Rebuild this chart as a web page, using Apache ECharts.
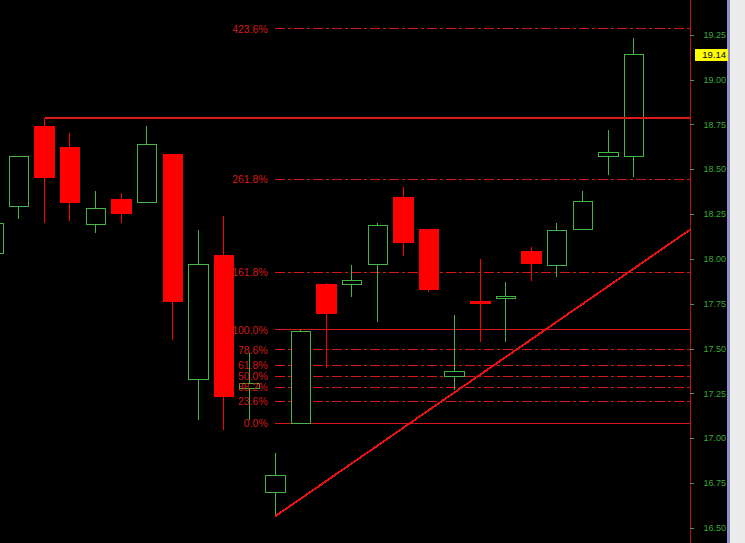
<!DOCTYPE html>
<html><head><meta charset="utf-8">
<script src="https://cdn.jsdelivr.net/npm/echarts@6/dist/echarts.min.js"></script>
<style>html,body{margin:0;padding:0;background:#000;}#c{width:745px;height:543px;}
#c svg path, #c svg rect, #c svg line { shape-rendering: crispEdges; }</style>
</head><body><div id="c"></div>
<script>
// ---- data ----
const candleIdx = [0,1,2,3,4,5,6,7,8,9,10,11,12,13,14,15,16,17,18,19,20,21,22,23,24,25];
const opens  = [18.034,18.292,18.737,18.625,18.194,18.335,18.317,18.586,17.326,18.021,17.276,16.701,17.086,17.856,17.856,17.971,18.346,18.168,17.348,17.766,17.778,18.045,17.967,18.168,18.570,18.575];
const closes = [18.196,18.575,18.454,18.315,18.283,18.253,18.637,17.763,17.971,17.233,17.309,16.796,17.594,17.694,17.878,18.185,18.090,17.831,17.376,17.750,17.794,17.978,18.157,18.319,18.597,19.140];
const lows   = [17.990,18.224,18.203,18.214,18.144,18.203,18.317,17.549,17.103,17.047,17.103,16.563,17.086,17.393,17.789,17.649,18.017,17.814,17.270,17.538,17.538,17.878,17.900,18.168,18.469,18.458];
const highs  = [18.230,18.575,18.787,18.702,18.380,18.367,18.744,18.586,18.162,18.240,17.476,16.919,17.605,17.867,17.967,18.201,18.402,18.168,17.688,18.001,17.872,18.068,18.201,18.380,18.720,19.233];

const fibLow = 17.086, fibHigh = 17.605, fibStartIdx = 11;
const fibRatios = [0, 0.236, 0.382, 0.5, 0.618, 0.786, 1, 1.618, 2.618, 4.236];
const fibLabels = ['0.0%','23.6%','38.2%','50.0%','61.8%','78.6%','100.0%','161.8%','261.8%','423.6%'];

const resistLevel = 18.787, resistStartIdx = 2;
const trendStart = [11, 16.566];
const trendEnd = [27.18, 18.164];

const yTicksMin = 16.25, yTicksMax = 19.5, yTickStep = 0.25;
const lastClose = 19.14;

// ---- chart ----
const xMin = 0.26, xMax = 27.18;
const FIB_RED = '#d81818';
const chart = echarts.init(document.getElementById('c'), null, { renderer: 'svg' });
const candleData = candleIdx.map((k, i) => [k, opens[i], closes[i], lows[i], highs[i]]);

const fibSeries = fibRatios.map((r, i) => {
  const v = fibLow + r * (fibHigh - fibLow);
  const solid = (r === 0 || r === 1);
  return {
    type: 'line', silent: true, symbol: 'none', z: 1,
    data: [[fibStartIdx, v], [xMax, v]],
    lineStyle: { color: FIB_RED, width: 1, type: solid ? 'solid' : [10, 3, 3, 3] },
    markPoint: {
      silent: true, symbol: 'rect', symbolSize: 1, itemStyle: { color: 'rgba(0,0,0,0)' },
      label: { show: true, position: 'left', distance: 7, formatter: fibLabels[i], color: '#d41818',
        fontSize: 10.5, fontFamily: 'Liberation Sans' },
      data: [{ coord: [fibStartIdx, v] }]
    }
  };
});

const option = {
  backgroundColor: '#000000',
  animation: false,
  grid: { left: 0, right: 55, top: -9.825, bottom: -29.9, containLabel: false, outerBoundsMode: 'none' },
  xAxis: { type: 'value', min: xMin, max: xMax, show: false },
  yAxis: {
    type: 'value', position: 'right', min: yTicksMin, max: yTicksMax, interval: yTickStep,
    axisLine: { show: true, lineStyle: { color: '#b41414', width: 1 } },
    axisTick: { show: true, length: 4, lineStyle: { color: '#6a8a6a' } },
    axisLabel: { color: '#3ca83c', fontSize: 9, fontFamily: 'Liberation Sans', align: 'right', margin: 36,
      showMinLabel: false, showMaxLabel: false, formatter: v => v.toFixed(2) },
    splitLine: { show: false }
  },
  series: fibSeries.concat([
    {
      type: 'candlestick', data: candleData, barWidth: 20, silent: true, z: 3,
      itemStyle: { color: '#000000', color0: '#ff0000', borderColor: '#44b444', borderColor0: '#ff0000', borderWidth: 1 }
    },
    {
      type: 'line', data: [[resistStartIdx, resistLevel], [xMax, resistLevel]], symbol: 'none', silent: true, z: 4,
      lineStyle: { color: '#dc1a1a', width: 2 }
    },
    {
      type: 'line', data: [trendStart, trendEnd], symbol: 'none', silent: true, z: 4,
      lineStyle: { color: '#e81212', width: 2 }
    }
  ])
};
chart.setOption(option);
const yc = chart.convertToPixel({ yAxisIndex: 0 }, lastClose);
chart.setOption({
  graphic: [
    { type: 'rect', shape: { x: 730, y: 0, width: 15, height: 543 }, style: { fill: '#ebebeb' }, silent: true },
    { type: 'rect', shape: { x: 727, y: 0, width: 3, height: 543 }, style: { fill: '#8e8ec8' }, silent: true },
    { type: 'rect', shape: { x: 695, y: Math.round(yc) - 6, width: 33, height: 12 }, style: { fill: '#ffff00' }, silent: true },
    { type: 'text', x: 726, y: yc, style: { text: lastClose.toFixed(2), fill: '#000', fontSize: 9.5,
      fontFamily: 'Liberation Sans', align: 'right', verticalAlign: 'middle' }, silent: true }
  ]
});
</script></body></html>
